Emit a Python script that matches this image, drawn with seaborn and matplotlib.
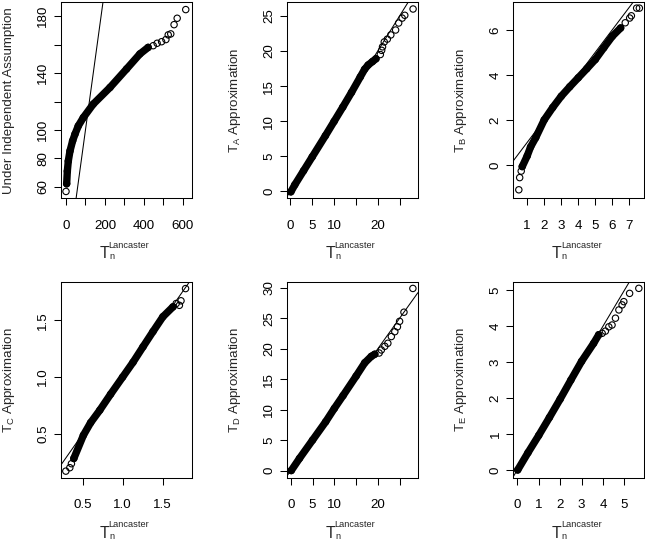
import seaborn as sns
import matplotlib.pyplot as plt
from matplotlib import transforms as mtransforms

# quantiles: dense part of each QQ band, then the sparse tail points
# panel 1: under independent assumption vs Lancaster
indep_lanc = [3.4, 6.8, 11.8, 20.5, 34, 46, 63, 89, 140, 226, 311, 379.5, 422]
indep_q = [62.1, 71, 78.1, 85.2, 92.3, 97, 102.8, 108.7, 118.2, 129.9, 142.9, 153.5, 158.1]
indep_tail_lanc = [0, 448, 468, 491, 513, 525, 538, 555, 571, 615]
indep_tail_q = [56.7, 159.3, 161, 162.1, 163.6, 166.9, 167.6, 174.1, 178.6, 184.7]

# panel 2: T_A
ta_lanc = [0.1, 1, 3, 5, 8, 10, 12, 14, 16, 17, 17.8, 18.8, 19.6]
ta_q = [-0.1, 0.9, 2.9, 4.9, 7.9, 9.95, 12, 14.1, 16.3, 17.4, 18.0, 18.5, 18.9]
ta_tail_lanc = [20.6, 20.9, 21.1, 21.5, 22.2, 23.0, 24.1, 24.8, 25.6, 26.2, 28.1]
ta_tail_q = [19.5, 20.1, 20.6, 21.3, 21.7, 22.3, 23.0, 24.0, 24.7, 25.1, 26.0]

# panel 3: T_B
tb_lanc = [0.71, 1.0, 1.2, 1.5, 2.0, 2.5, 3.0, 3.5, 4.0, 4.5, 5.0, 5.5, 6.0, 6.49]
tb_q = [-0.07, 0.4, 0.8, 1.21, 2.0, 2.55, 3.05, 3.47, 3.87, 4.27, 4.68, 5.2, 5.71, 6.08]
tb_tail_lanc = [0.51, 0.56, 0.65, 6.76, 7.02, 7.12, 7.43, 7.59]
tb_tail_q = [-1.1, -0.56, -0.27, 6.31, 6.52, 6.62, 6.96, 6.96]

# panel 4: T_C
tc_lanc = [0.39, 0.51, 0.6, 0.715, 0.85, 1.0, 1.13, 1.255, 1.38, 1.504, 1.63]
tc_q = [0.286, 0.49, 0.6, 0.71, 0.85, 1.0, 1.13, 1.266, 1.4, 1.53, 1.617]
tc_tail_lanc = [0.29, 0.34, 0.36, 1.67, 1.71, 1.73, 1.787]
tc_tail_q = [0.175, 0.205, 0.24, 1.646, 1.63, 1.67, 1.777]

# panel 5: T_D
td_lanc = [0.1, 2, 5, 8, 10, 12, 15, 17, 18.5, 19.3]
td_q = [0.0, 2, 5, 8, 10.2, 12.3, 15.5, 17.7, 18.75, 19.1]
td_tail_lanc = [20.3, 20.8, 21.6, 22.3, 23.1, 23.9, 24.5, 25.0, 26.0, 28.05]
td_tail_q = [19.3, 19.8, 20.4, 20.9, 22.0, 22.8, 23.6, 24.5, 26.0, 29.9]

# panel 6: T_E
te_lanc = [0.02, 0.5, 1, 1.5, 2, 2.5, 3, 3.56, 3.8]
te_q = [0.0, 0.48, 0.96, 1.46, 1.97, 2.5, 3.02, 3.52, 3.76]
te_tail_lanc = [3.96, 4.11, 4.27, 4.42, 4.58, 4.74, 4.89, 4.97, 5.24, 5.67]
te_tail_q = [3.8, 3.86, 3.98, 4.03, 4.22, 4.45, 4.59, 4.68, 4.91, 5.05]

# axis ticks / labels (R drops labels that would overlap)
ticks_1x = [0, 100, 200, 300, 400, 500, 600]
labels_1x = ['0', '', '200', '', '400', '', '600']
ticks_1y = [60, 80, 100, 120, 140, 160, 180]
labels_1y = ['60', '80', '100', '', '140', '', '180']
ticks_25x = [0, 5, 10, 15, 20, 25]
labels_25x = ['0', '5', '10', '', '20', '']
ticks_2y = [0, 5, 10, 15, 20, 25]
ticks_3x = [1, 2, 3, 4, 5, 6, 7]
ticks_3y = [0, 2, 4, 6]
ticks_4 = [0.5, 1.0, 1.5]
ticks_5y = [0, 5, 10, 15, 20, 25, 30]
ticks_6 = [0, 1, 2, 3, 4, 5]

sns.set_style('ticks')
plt.rcParams['font.family'] = ['Liberation Sans', 'DejaVu Sans']
plt.rcParams['mathtext.fontset'] = 'custom'
plt.rcParams['mathtext.rm'] = 'Liberation Sans'
plt.rcParams['mathtext.it'] = 'Liberation Sans:italic'
plt.rcParams['mathtext.bf'] = 'Liberation Sans:bold'

FS = 9.6

fig, axes = plt.subplots(2, 3, figsize=(6.45, 5.42), dpi=100)
plt.subplots_adjust(left=0.0946, right=0.9984, top=0.9954, bottom=0.119,
                    wspace=0.729, hspace=0.428)


def px_offset(ax, dx, dy):
    return mtransforms.offset_copy(ax.transAxes, fig=fig, x=dx, y=dy, units='dots')


def lancaster_label(ax):
    # T with subscript n and superscript Lancaster, laid out like R plotmath
    ax.text(0.5, 0, 'T', fontsize=11.5, ha='center', va='baseline',
            transform=px_offset(ax, -22, -60))
    ax.text(0.5, 0, 'Lancaster', fontsize=6.7, ha='left', va='baseline',
            transform=px_offset(ax, -17.8, -49.5))
    ax.text(0.5, 0, 'n', fontsize=6.7, ha='left', va='baseline',
            transform=px_offset(ax, -17, -61.3))


def qq_panel(ax, bx, by, tx, ty, xlim, ylim, xt, xtl, yt, ytl, ylab):
    sns.lineplot(x=bx, y=by, ax=ax, color='black', lw=5.3, sort=False,
                 estimator=None, solid_capstyle='round')
    sns.scatterplot(x=bx + tx, y=by + ty, ax=ax, marker='o', s=21,
                    facecolors='none', edgecolors='black', linewidth=0.8)
    ax.axline((0, 0), slope=1, color='black', lw=0.75)
    ax.set_xlim(xlim)
    ax.set_ylim(ylim)
    ax.set_xticks(xt)
    ax.set_xticklabels(xtl)
    ax.set_yticks(yt)
    ax.set_yticklabels(ytl)
    ax.tick_params(axis='both', direction='out', length=5, width=0.75,
                   labelsize=FS, colors='black')
    ax.tick_params(axis='x', pad=10.5)
    ax.tick_params(axis='y', pad=3.4, labelrotation=90)
    for lab in ax.get_yticklabels():
        lab.set_va('center')
    for sp in ax.spines.values():
        sp.set_visible(True)
        sp.set_linewidth(0.75)
        sp.set_color('black')
    ax.set_xlabel('')
    lancaster_label(ax)
    ax.set_ylabel(ylab, fontsize=FS)
    ax.yaxis.set_label_coords(-52.5 / 131, 0.5)
    ax.yaxis.label.set_va('center')


qq_panel(axes[0, 0], indep_lanc, indep_q, indep_tail_lanc, indep_tail_q,
         (-25.6, 646), (52.0, 189.7), ticks_1x, labels_1x, ticks_1y, labels_1y,
         'Under Independent Assumption')
qq_panel(axes[0, 1], ta_lanc, ta_q, ta_tail_lanc, ta_tail_q,
         (-0.76, 29.2), (-1.0, 26.93), ticks_25x, labels_25x,
         ticks_2y, [str(t) for t in ticks_2y], r'$\mathrm{T_A}$ Approximation')
qq_panel(axes[0, 2], tb_lanc, tb_q, tb_tail_lanc, tb_tail_q,
         (0.18, 7.86), (-1.47, 7.21), ticks_3x, [str(t) for t in ticks_3x],
         ticks_3y, [str(t) for t in ticks_3y], r'$\mathrm{T_B}$ Approximation')
qq_panel(axes[1, 0], tc_lanc, tc_q, tc_tail_lanc, tc_tail_q,
         (0.23, 1.865), (0.119, 1.836), ticks_4, ['0.5', '1.0', '1.5'],
         ticks_4, ['0.5', '1.0', '1.5'], r'$\mathrm{T_C}$ Approximation')
qq_panel(axes[1, 1], td_lanc, td_q, td_tail_lanc, td_tail_q,
         (-0.85, 29.2), (-1.14, 30.98), ticks_25x, labels_25x,
         ticks_5y, [str(t) for t in ticks_5y], r'$\mathrm{T_D}$ Approximation')
qq_panel(axes[1, 2], te_lanc, te_q, te_tail_lanc, te_tail_q,
         (-0.19, 5.91), (-0.21, 5.23), ticks_6, [str(t) for t in ticks_6],
         ticks_6, [str(t) for t in ticks_6], r'$\mathrm{T_E}$ Approximation')

fig.savefig('out.png', dpi=100, facecolor='white')
